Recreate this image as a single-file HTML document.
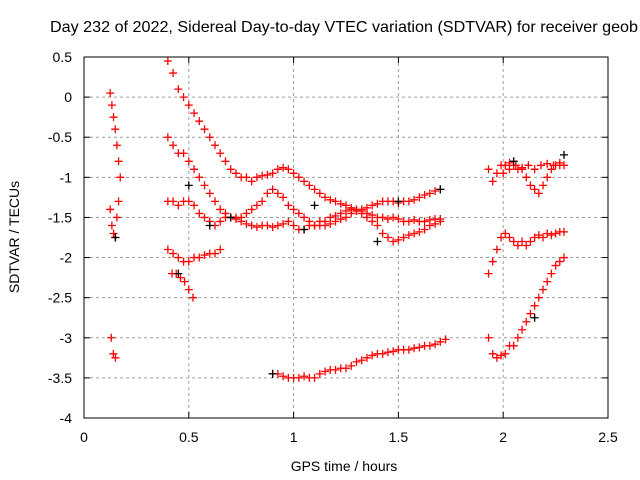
<!DOCTYPE html>
<html><head><meta charset="utf-8"><style>
body{margin:0;background:#fff}
svg{display:block;font-family:"Liberation Sans",sans-serif;font-size:14px}
</style></head><body>
<svg id="c" width="640" height="480">
<text x="50" y="32" font-size="16" textLength="588" lengthAdjust="spacingAndGlyphs">Day 232 of 2022, Sidereal Day-to-day VTEC variation (SDTVAR) for receiver geob</text>
<text x="344" y="471" text-anchor="middle">GPS time / hours</text>
<text transform="translate(19,237) rotate(-90)" text-anchor="middle">SDTVAR / TECUs</text>
<g id="grid"></g><g id="ticks"></g><g id="marks"></g>
<rect x="84" y="57" width="524" height="361" fill="none" stroke="#000"/>
</svg>
<script>
const xTicks=[0,0.5,1,1.5,2,2.5];
const xTickLabels=["0","0.5","1","1.5","2","2.5"];
const yTicks=[0.5,0,-0.5,-1,-1.5,-2,-2.5,-3,-3.5,-4];
const yTickLabels=["0.5","0","-0.5","-1","-1.5","-2","-2.5","-3","-3.5","-4"];
// tracks: start hour, step hour, values
const trackA={x0:0.40,dx:0.025,y:[0.45,0.3,0.1,0.0,-0.1,-0.2,-0.3,-0.4,-0.5,-0.6,-0.7,-0.8,-0.9,-0.95,-1.0,-1.0,-1.05,-1.0,-0.98,-0.97,-0.95,-0.9,-0.88,-0.9,-0.95,-1.0,-1.05,-1.1,-1.15,-1.2,-1.25,-1.28,-1.3,-1.33,-1.35,-1.38,-1.4,-1.42,-1.45,-1.47,-1.5,-1.5,-1.52,-1.5,-1.52,-1.55,-1.55,-1.53,-1.55,-1.55,-1.53,-1.52,-1.52]};
const trackB={x0:0.40,dx:0.025,y:[-0.5,-0.6,-0.7,-0.7,-0.8,-0.9,-1.0,-1.1,-1.2,-1.3,-1.4,-1.45,-1.5,-1.5,-1.5,-1.45,-1.4,-1.35,-1.3,-1.2,-1.15,-1.2,-1.25,-1.35,-1.4,-1.45,-1.5,-1.55,-1.6,-1.6,-1.6,-1.58,-1.55,-1.52,-1.5,-1.45,-1.42,-1.4,-1.38,-1.35,-1.33,-1.3,-1.3,-1.3,-1.32,-1.3,-1.3,-1.28,-1.25,-1.22,-1.2,-1.17,-1.15]};
const trackC={x0:0.40,dx:0.025,y:[-1.3,-1.3,-1.35,-1.3,-1.3,-1.35,-1.45,-1.5,-1.55,-1.6,-1.55,-1.5,-1.5,-1.52,-1.55,-1.58,-1.6,-1.62,-1.6,-1.6,-1.62,-1.6,-1.58,-1.55,-1.6,-1.65,-1.65,-1.6,-1.6,-1.55,-1.55,-1.5,-1.48,-1.45,-1.42,-1.4,-1.42,-1.45,-1.5,-1.55,-1.6,-1.7,-1.75,-1.8,-1.78,-1.75,-1.72,-1.7,-1.68,-1.65,-1.6,-1.58,-1.55]};
const trackD={x0:0.40,dx:0.025,y:[-1.9,-1.95,-2.0,-2.05,-2.05,-2.0,-2.0,-1.97,-1.95,-1.95,-1.9]};
const trackD2={x0:0.42,dx:0.02,y:[-2.2,-2.2,-2.25,-2.3,-2.4,-2.5]};
const trackE={x0:0.90,dx:0.025,y:[-3.45,-3.45,-3.48,-3.5,-3.5,-3.5,-3.48,-3.5,-3.5,-3.45,-3.42,-3.4,-3.4,-3.38,-3.38,-3.35,-3.3,-3.28,-3.25,-3.22,-3.2,-3.2,-3.18,-3.17,-3.15,-3.15,-3.15,-3.13,-3.12,-3.1,-3.1,-3.08,-3.05,-3.02]};
const trackF={x0:0.125,dx:0.008,y:[0.05,-0.1,-0.25,-0.4,-0.6,-0.8,-1.0]};
const trackF2={x0:0.125,dx:0.008,y:[-1.4,-1.6,-1.7,-1.75,-1.5,-1.3]};
const trackF3={x0:0.13,dx:0.01,y:[-3.0,-3.2,-3.25]};
const trackG={x0:1.93,dx:0.02,y:[-0.9,-1.05,-0.95,-0.85,-0.85,-0.82,-0.85,-0.9,-0.9,-1.0,-1.1,-1.15,-1.2,-1.1,-1.0,-0.9,-0.85,-0.82,-0.85]};
const trackG2={x0:2.0,dx:0.03,y:[-0.95,-0.9,-0.85,-0.88,-0.85,-0.9,-0.85,-0.83,-0.85,-0.85]};
const trackH={x0:1.93,dx:0.02,y:[-2.2,-2.05,-1.9,-1.75,-1.7,-1.75,-1.8,-1.85,-1.8,-1.85,-1.8,-1.75,-1.72,-1.75,-1.7,-1.72,-1.7,-1.68,-1.68]};
const trackI={x0:1.93,dx:0.02,y:[-3.0,-3.2,-3.25,-3.22,-3.2,-3.1,-3.1,-3.0,-2.9,-2.8,-2.7,-2.6,-2.5,-2.4,-2.3,-2.2,-2.1,-2.05,-2.0]};
const blackPts=[[0.5,-1.1],[0.6,-1.6],[0.7,-1.5],[0.9,-3.45],[1.05,-1.65],[1.4,-1.8],[1.5,-1.3],[1.7,-1.15],[2.05,-0.8],[2.15,-2.75],[2.29,-0.72],[0.45,-2.2],[0.15,-1.75],[1.1,-1.35]];
const tracks=[trackA,trackB,trackC,trackD,trackD2,trackE,trackF,trackF2,trackF3,trackG,trackG2,trackH,trackI];
const X=v=>84+v/2.5*524, Y=v=>57+(0.5-v)/4.5*361;
const NS="http://www.w3.org/2000/svg";
const g=document.getElementById('grid'),t=document.getElementById('ticks'),m=document.getElementById('marks');
function mk(tag,a,p){const e=document.createElementNS(NS,tag);for(const k in a)e.setAttribute(k,a[k]);p.appendChild(e);return e;}
xTicks.forEach((v,i)=>{const x=X(v);
 if(i>0&&i<xTicks.length-1){const l=mk('line',{x1:x,x2:x,y1:57,y2:418,stroke:'#a0a0a0','stroke-dasharray':'3,3'},g);
 
 }
 mk('line',{x1:x,x2:x,y1:418,y2:412,stroke:'#000'},t);mk('line',{x1:x,x2:x,y1:57,y2:63,stroke:'#000'},t);
 const s=mk('text',{x:x,y:442,'text-anchor':'middle'},t);s.textContent=xTickLabels[i];
 
 });
yTicks.forEach((v,i)=>{const y=Y(v);
 if(i>0&&i<yTicks.length-1){const l=mk('line',{x1:84,x2:608,y1:y,y2:y,stroke:'#a0a0a0','stroke-dasharray':'3,3'},g);
 
 }
 mk('line',{x1:84,x2:90,y1:y,y2:y,stroke:'#000'},t);mk('line',{x1:608,x2:602,y1:y,y2:y,stroke:'#000'},t);
 const s=mk('text',{x:72,y:y+5,'text-anchor':'end'},t);s.textContent=yTickLabels[i];
 
 });
function plus(xv,yv,col){const x=X(xv),y=Y(yv);
 const p=mk('path',{d:`M${x-4} ${y}h8M${x} ${y-4}v8`,stroke:col,'stroke-width':1.3},m);
 
 }
tracks.forEach(tr=>tr.y.forEach((v,i)=>plus(tr.x0+i*tr.dx,v,'#f00')));
blackPts.forEach(p=>plus(p[0],p[1],'#000'));
</script>
</body></html>
